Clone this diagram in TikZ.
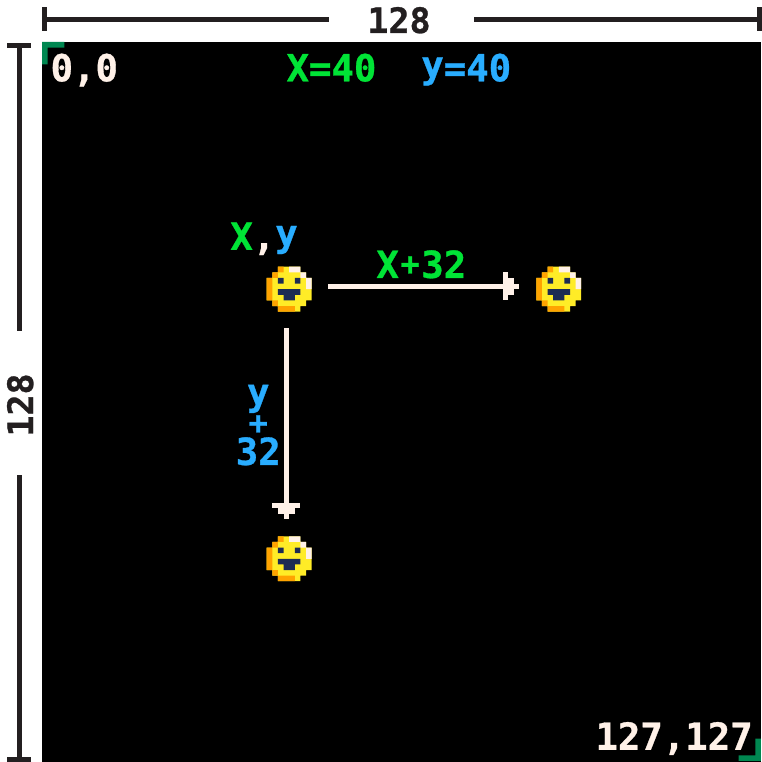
\documentclass[tikz,border=0pt]{standalone}
\usepackage{fontspec}
\setmonofont{DejaVu Sans Mono}[BoldFeatures={FakeBold=0.8}]
\usepackage{xcolor}
\usetikzlibrary{arrows.meta}
\definecolor{picowhite}{HTML}{FFF1E8}
\definecolor{picogreen}{HTML}{00E436}
\definecolor{picoblue}{HTML}{29ADFF}
\definecolor{picoteal}{HTML}{008751}
\definecolor{picoyellow}{HTML}{FFEC27}
\definecolor{piconavy}{HTML}{1D2B53}
\definecolor{picoorange}{HTML}{FFA300}
\definecolor{dimink}{HTML}{231F20}
\newcommand{\ylow}{\raisebox{3.5pt}{y}}
\newcommand{\plusmark}{\makebox[.602em]{\raisebox{3pt}{\scalebox{.85}{+}}}}
\begin{document}
\begin{tikzpicture}[
  x=1pt, y=-1pt,
  dimhead/.tip={Rectangle[length=5pt,width=24pt,sep=0pt,line width=0pt]},
  pixelhead/.tip={Rectangle[length=5.617pt,width=28.085pt,sep=0pt,line width=0pt]
    Rectangle[length=5.617pt,width=16.851pt,sep=0pt,line width=0pt]
    Rectangle[length=5.617pt,width=5.617pt,sep=0pt,line width=0pt]},
  dimline/.style={draw=dimink, line width=5pt},
  dimlabel/.style={inner sep=0pt, text=dimink, font=\fontsize{35}{35}\selectfont\ttfamily\bfseries},
  pixtext/.style={inner sep=0pt, anchor=base west, font=\fontsize{37.3}{28.085}\selectfont\ttfamily\bfseries},
  arr/.style={draw=picowhite, line width=5.617pt, -{pixelhead}},
  sprite/.style={minimum size=44.94pt, inner sep=0pt, outer sep=16.85pt},
  cornermark/.style={fill=picoteal},
  face/.pic={
    \fill[picoyellow] \foreach \c/\r/\w/\h in {2/0/4/1,1/1/6/1,0/2/8/4,1/6/6/1,2/7/4/1}
      {(\c-4,\r-4) rectangle ++(\w,\h)};
    \fill[picoorange] \foreach \c/\r/\w/\h in {2/0/1/1,1/1/1/1,0/2/1/4,1/6/1/1,2/7/3/1}
      {(\c-4,\r-4) rectangle ++(\w,\h)};
    \fill[picowhite] \foreach \c/\r/\w/\h in {4/0/2/1,6/1/1/1,7/2/1/2}
      {(\c-4,\r-4) rectangle ++(\w,\h)};
    \fill[piconavy] \foreach \c/\r/\w/\h in {2/2/1/1,5/2/1/1,2/4/4/1,3/5/2/1}
      {(\c-4,\r-4) rectangle ++(\w,\h)};
  }
]
  \useasboundingbox (0,0) rectangle (761,762);
  \fill[black] (42,42) rectangle (761,762);

  % size marks
  \coordinate (topleft) at (42,19.5);
  \coordinate (topright) at (762,19.5);
  \coordinate (sideup) at (19,43);
  \coordinate (sidedown) at (19,762);
  \node[dimlabel, anchor=base] (toplabel) at (399,33) {128};
  \node[dimlabel, anchor=base, rotate=90] (sidelabel) at (33,405) {128};
  \draw[dimline, {dimhead}-] (topleft) -- ([xshift=-70pt]toplabel.center |- topleft);
  \draw[dimline, -{dimhead}] ([xshift=75pt]toplabel.center |- topleft) -- (topright);
  \draw[dimline, {dimhead}-] (sideup) -- ([yshift=74.5pt]sidelabel.center -| sideup);
  \draw[dimline, -{dimhead}] ([yshift=-70pt]sidelabel.center -| sidedown) -- (sidedown);

  % screen, in its own pixels
  \begin{scope}[shift={(42,42)}, x=5.617pt, y=-5.617pt]
    \fill[cornermark] (0,0) -- (4,0) -- (4,1) -- (1,1) -- (1,4) -- (0,4) -- cycle;
    \fill[cornermark] (128,128) -- (124,128) -- (124,127) -- (127,127) -- (127,124) -- (128,124) -- cycle;

    \node[pixtext, text=picowhite] (origin) at (1.5,7) {0,0};
    \node[pixtext, text=picowhite] (far) at (98.5,126) {127,127};
    \node[pixtext, text=picogreen] (xvalue) at (43.5,7) {X=40};
    \node[pixtext, text=picoblue] (yvalue) at (67.5,7) {\ylow=40};
    \node[pixtext] (xylabel) at (33.5,37) {\textcolor{picogreen}{X}\textcolor{picowhite}{,}\textcolor{picoblue}{\ylow}};
    \node[pixtext, text=picogreen] (xplus) at (59.5,42) {X\plusmark32};
    \node[pixtext, text=picoblue, align=center, anchor=north] (yplus) at (38.5,61) {\ylow\\\plusmark\\32};

    \node[sprite] (face1) at (44,44) {};
    \node[sprite] (face2) at (92,44) {};
    \node[sprite] (face3) at (44,92) {};
    \pic at (face1.center) {face};
    \pic at (face2.center) {face};
    \pic at (face3.center) {face};

    \draw[arr] ([yshift=2.81pt]face1.east) -- ([yshift=2.81pt]face2.west);
    \draw[arr] ([xshift=-2.81pt]face1.south) -- ([xshift=-2.81pt]face3.north);
  \end{scope}
\end{tikzpicture}
\end{document}
